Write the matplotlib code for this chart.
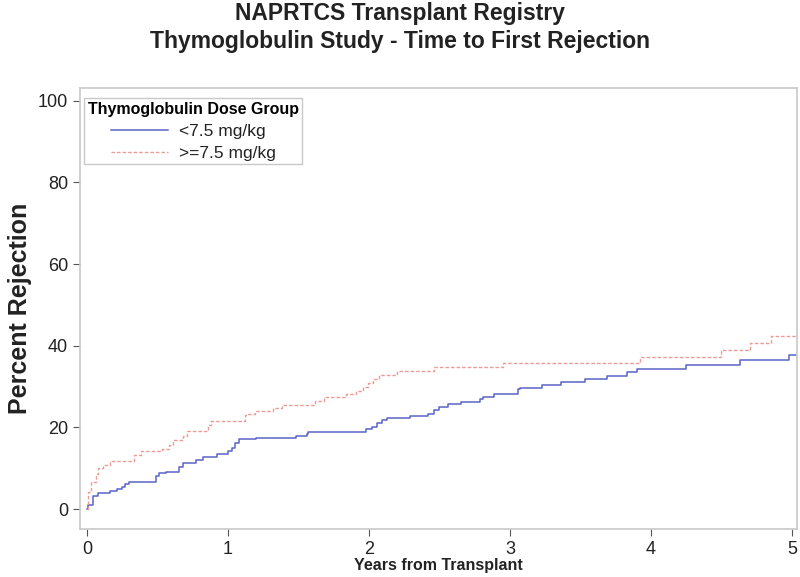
import matplotlib
matplotlib.use('Agg')
import matplotlib.pyplot as plt

plt.rcParams['font.family'] = ['Liberation Sans', 'DejaVu Sans']

# Kaplan-Meier style cumulative rejection (percent)
low_t = [0, 0.01, 0.04, 0.08, 0.16, 0.21, 0.25, 0.27, 0.30, 0.49, 0.51, 0.56,
         0.65, 0.68, 0.77, 0.82, 0.92, 1.00, 1.03, 1.05, 1.08, 1.20, 1.48, 1.56,
         1.57, 1.98, 2.02, 2.06, 2.09, 2.13, 2.29, 2.42, 2.46, 2.50, 2.56, 2.65,
         2.79, 2.81, 2.89, 3.06, 3.07, 3.23, 3.36, 3.53, 3.69, 3.83, 3.90, 4.25,
         4.63, 4.98, 5.05]
low_y = [0, 1.0, 3.2, 3.9, 4.4, 5.0, 5.5, 6.1, 6.7, 8.1, 8.8, 9.1,
         10.4, 11.4, 12.0, 12.8, 13.6, 14.2, 15.0, 16.1, 17.1, 17.5, 18.0, 18.5,
         18.9, 19.5, 20.2, 21.2, 21.8, 22.2, 22.8, 23.4, 24.3, 25.1, 25.7, 26.3,
         26.9, 27.5, 28.3, 29.3, 29.7, 30.4, 31.1, 31.9, 32.7, 33.6, 34.4, 35.4,
         36.5, 37.8, 37.8]

high_t = [0, 0.005, 0.01, 0.03, 0.06, 0.08, 0.11, 0.16, 0.33, 0.38, 0.53, 0.58,
          0.61, 0.68, 0.71, 0.86, 0.88, 1.12, 1.14, 1.19, 1.32, 1.38, 1.62, 1.68,
          1.84, 1.91, 1.96, 1.99, 2.03, 2.07, 2.20, 2.46, 2.95, 3.92, 4.50, 4.70,
          4.85, 5.05]
high_y = [0, 1.5, 4.2, 6.7, 8.7, 10.0, 10.8, 11.8, 13.2, 14.2, 14.8, 15.8,
          16.9, 18.0, 19.2, 20.5, 21.5, 23.0, 23.4, 24.0, 24.8, 25.6, 26.5, 27.4,
          28.2, 28.9, 29.8, 31.0, 31.9, 32.8, 33.7, 34.7, 35.7, 37.2, 39.0, 40.8,
          42.3, 42.3]

x_ticks = [0, 1, 2, 3, 4, 5]
y_ticks = [0, 20, 40, 60, 80, 100]

blue = '#5a64c8'
red = '#ec9a94'
frame = '#c8c8c8'

fig = plt.figure(figsize=(8, 5.77), dpi=100)
ax = fig.add_axes([0.1, 0.083, 0.896, 0.765])

ax.step(low_t, low_y, where='post', color=blue, lw=1.1, label='<7.5 mg/kg')
ax.step(high_t, high_y, where='post', color=red, lw=1.0, ls=(0, (2.5, 1.5)),
        label='>=7.5 mg/kg')

ax.set_xlim(-0.05, 5.035)
ax.set_ylim(-4.9, 103.2)
ax.set_xticks(x_ticks)
ax.set_yticks(y_ticks)
ax.tick_params(colors='#555555', labelcolor='#222222', labelsize=13,
               length=5, width=0.8)
for s in ax.spines.values():
    s.set_color(frame)
    s.set_linewidth(1.2)

ax.set_xlabel('Years from Transplant', fontsize=11.5, fontweight='bold',
              color='#222222')
ax.xaxis.label.set_va('center')
ax.xaxis.set_label_coords(0.4993, -0.082)
ax.set_ylabel('Percent Rejection', fontsize=18, fontweight='bold',
              color='#222222')
ax.yaxis.label.set_va('center')
ax.yaxis.set_label_coords(-0.084, 0.499)

leg = ax.legend(title='Thymoglobulin Dose Group', loc='upper left',
                bbox_to_anchor=(0.006, 0.976), fontsize=12.5, title_fontsize=11.5,
                fancybox=False, framealpha=1, edgecolor=frame,
                handlelength=3.3, borderpad=0.2, labelspacing=0.4,
                handletextpad=0.6, borderaxespad=0)
leg.get_title().set_fontweight('bold')
for t in leg.get_texts():
    t.set_color('#222222')

fig.text(0.5, 0.977, 'NAPRTCS Transplant Registry', ha='center', va='center',
         fontsize=16.5, fontweight='bold', color='#222222')
fig.text(0.5, 0.928, 'Thymoglobulin Study - Time to First Rejection',
         ha='center', va='center', fontsize=16.5, fontweight='bold',
         color='#222222')

fig.savefig('out.png', dpi=100)
